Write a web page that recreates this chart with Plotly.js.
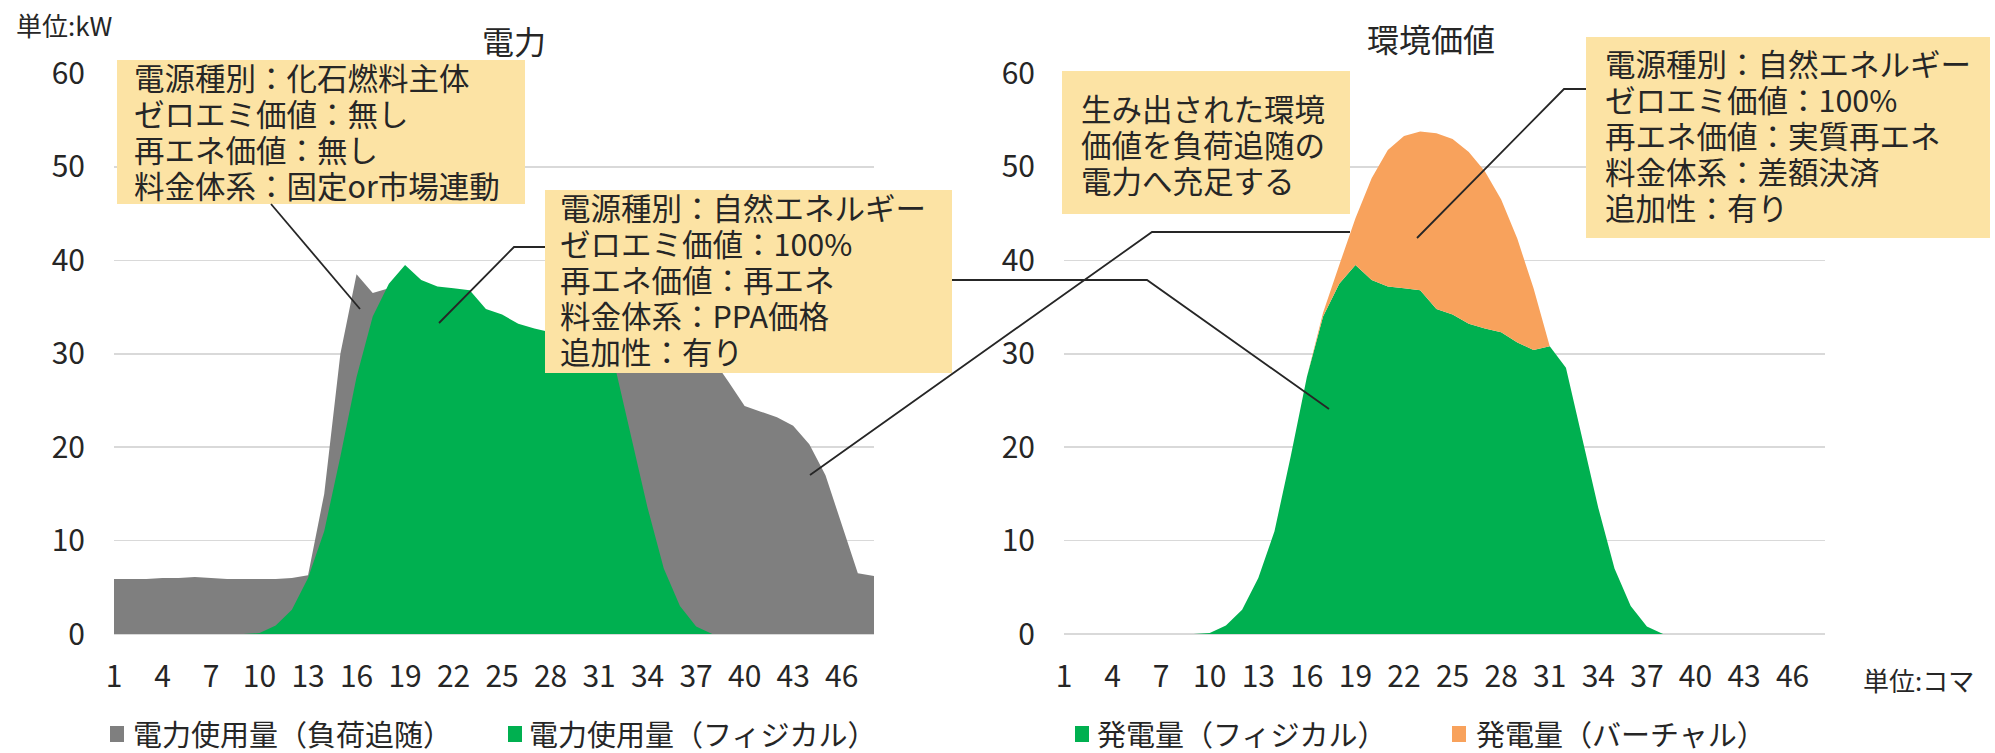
<!DOCTYPE html>
<html>
<head>
<meta charset="utf-8">
<script src="https://cdn.plot.ly/plotly-3.0.1.min.js"></script>
<style>
  html, body { margin: 0; padding: 0; background: #ffffff; }
  #chart { width: 1995px; height: 753px; }
</style>
</head>
<body>
<div id="chart"></div>
<script>
// 30-minute slots (コマ) of one day
const slots = [1, 2, 3, 4, 5, 6, 7, 8, 9, 10, 11, 12, 13, 14, 15, 16, 17, 18, 19, 20, 21, 22, 23, 24,
               25, 26, 27, 28, 29, 30, 31, 32, 33, 34, 35, 36, 37, 38, 39, 40, 41, 42, 43, 44, 45, 46, 47, 48];
const slotTicks = [1, 4, 7, 10, 13, 16, 19, 22, 25, 28, 31, 34, 37, 40, 43, 46];
const kwTicks = [0, 10, 20, 30, 40, 50, 60];

// 電力使用量（負荷追随） kW
const loadFollowKW = [5.9, 5.9, 5.9, 6.0, 6.0, 6.1, 6.0, 5.9, 5.9, 5.9, 5.9, 6.0,
                      6.3, 15.0, 30.0, 38.5, 36.5, 37.0, 37.5, 37.0, 36.5, 36.0, 35.5, 34.0,
                      33.5, 32.5, 32.0, 31.5, 31.0, 30.0, 30.5, 31.0, 31.0, 30.8, 30.5, 30.2,
                      30.0, 29.5, 27.0, 24.4, 23.8, 23.2, 22.3, 20.3, 17.0, 11.8, 6.5, 6.2];

// 電力使用量（フィジカル） = 発電量（フィジカル） kW
const physicalKW = [0, 0, 0, 0, 0, 0, 0, 0, 0, 0.1, 0.9, 2.6,
                    6.0, 11.0, 19.0, 27.5, 34.0, 37.5, 39.5, 37.9, 37.2, 37.0, 36.8, 34.8,
                    34.2, 33.2, 32.7, 32.3, 31.2, 30.4, 30.8, 28.5, 21.0, 13.5, 7.0, 3.0,
                    0.8, 0, 0, 0, 0, 0, 0, 0, 0, 0, 0, 0];

// 発電量（バーチャル） kW, stacked on the physical output
const virtualKW = [0, 0, 0, 0, 0, 0, 0, 0, 0, 0, 0, 0,
                   0, 0, 0, 0, 0.4, 2.0, 5.0, 10.9, 14.6, 16.3, 17.0, 18.8,
                   18.8, 18.4, 16.8, 14.2, 11.1, 6.6, 0, 0, 0, 0, 0, 0,
                   0, 0, 0, 0, 0, 0, 0, 0, 0, 0, 0, 0];

const boxFossil = ['電源種別：化石燃料主体', 'ゼロエミ価値：無し', '再エネ価値：無し', '料金体系：固定or市場連動'];
const boxPPA = ['電源種別：自然エネルギー', 'ゼロエミ価値：100%', '再エネ価値：再エネ', '料金体系：PPA価格', '追加性：有り'];
const boxTransfer = ['生み出された環境', '価値を負荷追随の', '電力へ充足する'];
const boxVirtual = ['電源種別：自然エネルギー', 'ゼロエミ価値：100%', '再エネ価値：実質再エネ', '料金体系：差額決済', '追加性：有り'];

const W = 1995, H = 753;
const FONT = "'Noto Sans CJK JP', 'Noto Sans', sans-serif";
const TEXT = '#262626';
const GRAY = '#7f7f7f', GREEN = '#00b050', ORANGE = '#f8a25c', NOTE = '#fce3a4';

// pixel -> paper helpers (margins are zero, so paper spans the whole page)
const px = x => x / W;
const py = y => 1 - y / H;

const traces = [
  { x: slots, y: loadFollowKW, name: '電力使用量（負荷追随）', type: 'scatter', mode: 'lines',
    fill: 'tozeroy', fillcolor: GRAY, line: { width: 0, color: GRAY }, xaxis: 'x', yaxis: 'y' },
  { x: slots, y: physicalKW, name: '電力使用量（フィジカル）', type: 'scatter', mode: 'lines',
    fill: 'tozeroy', fillcolor: GREEN, line: { width: 0, color: GREEN }, xaxis: 'x', yaxis: 'y' },
  { x: slots, y: physicalKW, name: '発電量（フィジカル）', type: 'scatter', mode: 'lines',
    stackgroup: 'gen', fillcolor: GREEN, line: { width: 0, color: GREEN }, xaxis: 'x2', yaxis: 'y2' },
  { x: slots, y: virtualKW, name: '発電量（バーチャル）', type: 'scatter', mode: 'lines',
    stackgroup: 'gen', fillcolor: ORANGE, line: { width: 0, color: ORANGE }, xaxis: 'x2', yaxis: 'y2' }
];

const yDomain = [py(634), py(73.5)];
function xAxis(domain, anchor) {
  return {
    domain: domain, anchor: anchor, range: [1, 48], tickvals: slotTicks, ticktext: slotTicks.map(String),
    showgrid: false, zeroline: false, showline: false, ticks: '', ticklabelstandoff: 22,
    tickfont: { family: FONT, size: 30, color: TEXT }, automargin: false, fixedrange: true
  };
}
function yAxis(domain, anchor) {
  return {
    domain: domain, anchor: anchor, range: [0, 60], tickvals: kwTicks,
    showgrid: true, gridcolor: '#d9d9d9', gridwidth: 1.5,
    zeroline: true, zerolinecolor: '#d9d9d9', zerolinewidth: 1.5,
    showline: false, ticks: '', ticklabelstandoff: 28,
    tickfont: { family: FONT, size: 30, color: TEXT }, automargin: false, fixedrange: true
  };
}

const shapes = [];
const annotations = [];

function label(text, x, y, size, anchor) {
  annotations.push({
    xref: 'paper', yref: 'paper', x: px(x), y: py(y), text: text, showarrow: false,
    xanchor: anchor || 'left', yanchor: 'middle', font: { family: FONT, size: size, color: TEXT }
  });
}

function noteBox(lines, x0, y0, x1, y1, textX, firstY, step) {
  shapes.push({ type: 'rect', xref: 'paper', yref: 'paper', x0: px(x0), x1: px(x1), y0: py(y1), y1: py(y0),
                fillcolor: NOTE, line: { width: 0 }, layer: 'above' });
  lines.forEach((t, i) => label(t, textX, firstY + i * step, 30.5));
}

function connector(points) {
  const d = points.map((p, i) => (i ? 'L' : 'M') + px(p[0]) + ',' + py(p[1])).join(' ');
  shapes.push({ type: 'path', xref: 'paper', yref: 'paper', path: d, line: { color: '#262626', width: 1.8 }, layer: 'above' });
}

function legendItem(color, x, textX, text) {
  shapes.push({ type: 'rect', xref: 'paper', yref: 'paper', x0: px(x), x1: px(x + 14), y0: py(742), y1: py(726),
                fillcolor: color, line: { width: 0 } });
  label(text, textX, 733, 29);
}

// note boxes
noteBox(boxFossil, 117, 60, 525, 204, 132, 77, 36);
noteBox(boxPPA, 545, 190, 952, 373, 558, 207, 36);
noteBox(boxTransfer, 1062, 71, 1350, 214, 1079, 108, 36);
noteBox(boxVirtual, 1586, 37, 1990, 238, 1603, 63, 36);

// leader lines
connector([[271, 204], [360, 309]]);
connector([[545, 247], [514, 247], [439, 323]]);
connector([[952, 280], [1147, 280], [1329, 409]]);
connector([[810, 475], [1152, 232], [1350, 232]]);
connector([[1586, 89], [1564, 89], [1417, 238]]);

// titles and units
label('電力', 514, 40, 32, 'center');
label('環境価値', 1431, 38, 32, 'center');
label('単位:kW', 14, 25, 26);
label('単位:コマ', 1861, 679, 26);

// legends
legendItem(GRAY, 110, 131, '電力使用量（負荷追随）');
legendItem(GREEN, 508, 527, '電力使用量（フィジカル）');
legendItem(GREEN, 1075, 1095, '発電量（フィジカル）');
legendItem(ORANGE, 1452, 1474, '発電量（バーチャル）');

const layout = {
  width: W, height: H,
  margin: { l: 0, r: 0, t: 0, b: 0 },
  paper_bgcolor: '#ffffff', plot_bgcolor: '#ffffff',
  showlegend: false,
  font: { family: FONT, color: TEXT },
  xaxis: xAxis([px(114), px(874)], 'y'),
  yaxis: yAxis(yDomain, 'x'),
  xaxis2: xAxis([px(1064), px(1825)], 'y2'),
  yaxis2: yAxis(yDomain, 'x2'),
  shapes: shapes,
  annotations: annotations
};

Plotly.newPlot('chart', traces, layout, { staticPlot: true, displayModeBar: false });
</script>
</body>
</html>
